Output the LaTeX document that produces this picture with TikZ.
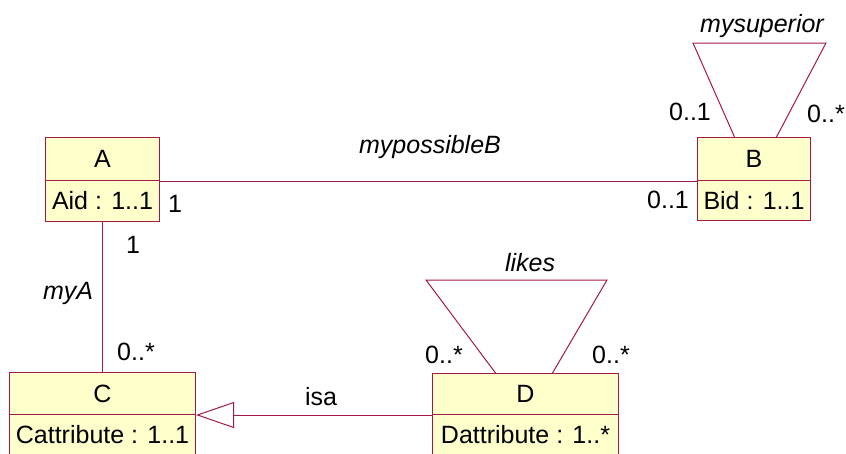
\documentclass[tikz,border=0pt]{standalone}
\usepackage{fontspec}
\setmainfont{Liberation Sans}
\usetikzlibrary{arrows.meta,calc}
\definecolor{umlline}{RGB}{165,25,70}
\definecolor{umlfill}{RGB}{255,255,204}
\begin{document}
\begin{tikzpicture}[x=1pt,y=-1pt,
  font=\fontsize{25}{30}\selectfont,
  box/.style={draw=umlline, fill=umlfill, line width=1pt, rectangle, inner sep=0pt, anchor=north west},
  conn/.style={draw=umlline, line width=1pt},
  lbl/.style={inner sep=0pt, anchor=base},
  role/.style={inner sep=0pt, anchor=base, font=\fontsize{25}{30}\selectfont\itshape}]
\useasboundingbox (0,0) rectangle (846,453);
\clip (0,0) rectangle (846,453);
\fill[white] (0,0) rectangle (846,453);

% classes
\node[box, minimum width=114pt, minimum height=43pt] (An) at (45,137) {A};
\node[box, minimum width=114pt, minimum height=41pt] (Aa) at (45,180) {Aid : 1..1};
\node[box, minimum width=113pt, minimum height=43pt] (Bn) at (697,137) {B};
\node[box, minimum width=113pt, minimum height=40pt] (Ba) at (697,180) {Bid : 1..1};
\node[box, minimum width=186pt, minimum height=42pt] (Cn) at (9,372) {C};
\node[box, minimum width=186pt, minimum height=44pt] (Ca) at (9,414) {\raisebox{4pt}{Cattribute : 1..1}};
\node[box, minimum width=186pt, minimum height=41pt] (Dn) at (432,373) {D};
\node[box, minimum width=186pt, minimum height=44pt] (Da) at (432,414) {\raisebox{4pt}{Dattribute : 1..*}};

% self-loop anchor points
\coordinate (supL) at ($(Bn.north)+(-19.5,0)$);
\coordinate (supR) at ($(Bn.north)+(22.5,0)$);
\coordinate (supTL) at (693,43);
\coordinate (supTR) at (826,43);
\coordinate (likL) at ($(Dn.north)+(-30,0)$);
\coordinate (likR) at ($(Dn.north)+(27,0)$);
\coordinate (likTL) at (426,280);
\coordinate (likTR) at (607,280);

% connectors
\draw[conn] (An.south east) -- (Bn.south west);
\draw[conn] (Aa.south) -- (Cn.north);
\draw[conn, -{Triangle[open, length=38pt, width=26pt, fill=white]}] (Dn.south west) -- (Cn.south east);
\draw[conn] (supL) -- (supTL) -- (supTR) -- (supR);
\draw[conn] (likL) -- (likTL) -- (likTR) -- (likR);

% labels
\node[role] (lsup) at (762,32) {mysuperior};
\node[lbl] (msupL) at (690,120) {0..1};
\node[lbl] (msupR) at (826,122) {0..*};
\node[role] (lposs) at (430,153) {mypossibleB};
\node[lbl] (mA1) at (175,212) {1};
\node[lbl] (mB01) at (668,208) {0..1};
\node[lbl] (mAC1) at (133,253) {1};
\node[role] (lmyA) at (68,299) {myA};
\node[lbl] (mC0) at (136,360) {0..*};
\node[lbl] (lisa) at (321,405) {isa};
\node[role] (llikes) at (530,271) {likes};
\node[lbl] (mlikL) at (444,363) {0..*};
\node[lbl] (mlikR) at (611,363) {0..*};
\end{tikzpicture}
\end{document}
